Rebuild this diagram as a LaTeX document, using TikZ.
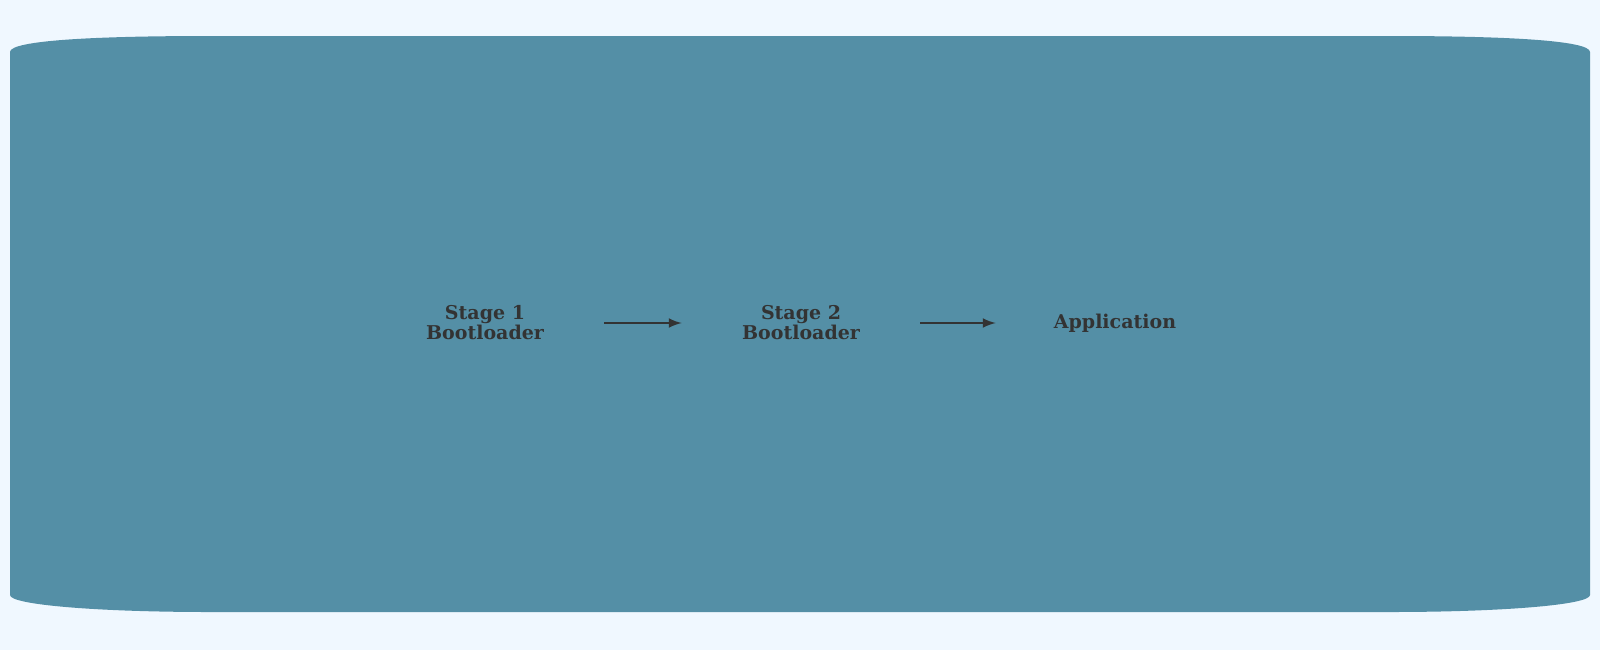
\documentclass[tikz,border=0pt]{standalone}
\usepackage{fontspec}
\setmainfont{DejaVu Serif}
\definecolor{bg}{HTML}{F0F8FF}
\definecolor{blob}{HTML}{548FA6}
\definecolor{ink}{HTML}{333333}
\tikzset{
  stagebox/.style={draw=none, minimum width=119pt, align=center, text=ink, font=\bfseries\fontsize{9.5}{10}\selectfont, inner sep=2pt},
  flow/.style={draw=ink, line width=1.2pt, -latex}
}
\begin{document}
\begin{tikzpicture}[x=0.5pt,y=-0.5pt]
\fill[bg] (0,0) rectangle (1600,650);
\useasboundingbox (0,0) rectangle (1600,650);
\fill[blob] (10,52) .. controls (10,40) and (100,36) .. (210,36)
  -- (1390,36) .. controls (1500,36) and (1590,40) .. (1590,52)
  -- (1590,595) .. controls (1590,605) and (1500,612) .. (1390,612)
  -- (210,612) .. controls (100,612) and (10,605) .. (10,595) -- cycle;
\node[stagebox] (s1) at (485,323) {Stage 1\\Bootloader};
\node[stagebox] (s2) at (801,323) {Stage 2\\Bootloader};
\node[stagebox] (app) at (1115,323) {Application};
\draw[flow] (s1) -- (s2);
\draw[flow] (s2) -- (app);
\end{tikzpicture}
\end{document}
